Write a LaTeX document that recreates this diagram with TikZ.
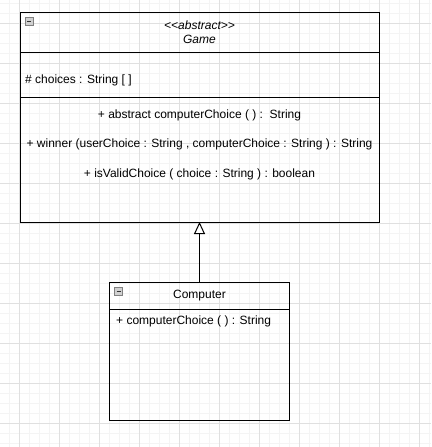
\documentclass[tikz,border=0pt]{standalone}
\usepackage{fontspec}
\setmainfont{Liberation Sans}
\usetikzlibrary{positioning,arrows.meta}
\definecolor{grelhafina}{HTML}{F4F4F4}
\definecolor{grelha}{HTML}{E0E0E0}
\definecolor{botao}{HTML}{D0D0D0}
\begin{document}
\begin{tikzpicture}[x=1pt, y=-1pt, font=\fontsize{12}{14.5}\selectfont,
    caixa/.style={draw, line width=1pt, inner sep=0pt, outer sep=0pt, minimum width=#1}]
    \useasboundingbox (0,0) rectangle (431,447);

    % Grelha de fundo
    \foreach \x in {9,19,...,429} \draw[grelhafina, line width=1pt] (\x,0) -- (\x,447);
    \foreach \y in {3,13,...,443} \draw[grelhafina, line width=1pt] (0,\y) -- (431,\y);
    \foreach \x in {19,59,...,419} \draw[grelha, line width=1pt] (\x,0) -- (\x,447);
    \foreach \y in {23,63,...,423} \draw[grelha, line width=1pt] (0,\y) -- (431,\y);

    % Classe abstrata - Game
    \node[caixa=359pt, minimum height=40.5pt, align=center, font=\fontsize{12}{14.5}\selectfont\itshape]
      (ghead) at (199.5,32.25) {<\kern0pt<abstract>\kern0pt>\\Game};
    \node[caixa=359pt, minimum height=44.5pt, below=0pt of ghead] (gattr) {};
    \node[caixa=359pt, minimum height=125pt, below=0pt of gattr] (gops) {};
    \node[anchor=west, inner sep=0pt] (gchoices) at (25,80) {\# choices : String [ ]};
    \node (gop1) at (199.5,115) {+ abstract computerChoice ( ) :\ \ String};
    \node (gop2) at (199.5,144.5) {+ winner (userChoice : String , computerChoice : String ) : String};
    \node (gop3) at (199.5,174) {+ isValidChoice ( choice : String ) : boolean};

    % Subclasse - Computer
    \node[caixa=180pt, minimum height=27pt] (chead) at (199.5,295.5) {Computer};
    \node[caixa=180pt, minimum height=111pt, below=0pt of chead] (cbody) {};
    \node[anchor=west, inner sep=0pt] (cop) at (116,321) {+ computerChoice ( ) : String};

    % Botoes de recolher
    \foreach \n in {ghead, chead} {
      \draw[gray, fill=botao] ([shift={(5,5)}]\n.north west) rectangle ++(8,8);
      \draw[line width=1pt, black!80] ([shift={(7,9)}]\n.north west) -- ++(4,0);
    }

    % Heranca
    \draw[line width=1pt, -{Triangle[width=11pt, length=12pt, fill=white]}] (chead.north) -- (gops.south);
  \end{tikzpicture}
\end{document}
